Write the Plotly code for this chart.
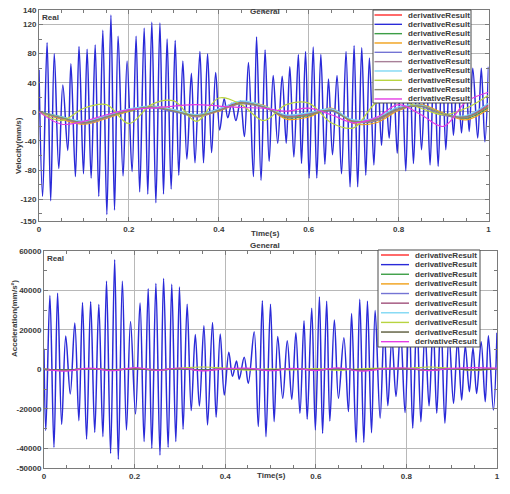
import plotly.graph_objects as go

# ---------------- data: velocity (top panel) ----------------
# main measured signal, successive extrema (time s, velocity mm/s)
vel_t = [0.000, 0.008, 0.018, 0.026, 0.034, 0.044, 0.053, 0.064, 0.071, 0.081,
         0.089, 0.099, 0.107, 0.116, 0.125, 0.133, 0.142, 0.151, 0.160, 0.168,
         0.176, 0.187, 0.196, 0.207, 0.216, 0.224, 0.234, 0.242, 0.251, 0.260,
         0.269, 0.277, 0.285, 0.294, 0.303, 0.311, 0.320, 0.329, 0.339, 0.347,
         0.358, 0.366, 0.375, 0.384, 0.393, 0.402, 0.412, 0.420, 0.429, 0.438,
         0.448, 0.457, 0.466, 0.477, 0.484, 0.494, 0.503, 0.512, 0.521, 0.531,
         0.541, 0.550, 0.558, 0.567, 0.577, 0.584, 0.593, 0.601, 0.610, 0.618,
         0.627, 0.636, 0.644, 0.653, 0.663, 0.673, 0.683, 0.692, 0.701, 0.709,
         0.718, 0.727, 0.735, 0.745, 0.753, 0.762, 0.770, 0.779, 0.788, 0.797,
         0.806, 0.816, 0.824, 0.833, 0.842, 0.851, 0.861, 0.870, 0.879, 0.888,
         0.897, 0.905, 0.914, 0.922, 0.931, 0.940, 0.949, 0.957, 0.965, 0.976,
         0.984, 0.992, 1.000]
vel_v = [58, -116, 95, -122, 80, -78, 37, -53, 66, -89,
         90, -85, 86, -91, 92, -116, 112, -141, 133, -135,
         104, -88, 70, -82, 104, -110, 115, -113, 123, -125,
         122, -113, 100, -106, 98, -87, 70, -65, 53, -70,
         83, -70, 80, -56, 54, -25, 18, -8, 12, -12,
         15, -34, 68, -89, 103, -94, 85, -68, 50, -43,
         49, -43, 62, -62, 79, -71, 83, -91, 89, -91,
         79, -72, 45, -59, 50, -85, 83, -103, 91, -103,
         88, -87, 74, -73, 62, -46, 48, -36, 55, -57,
         78, -81, 85, -71, 70, -52, 66, -73, 80, -75,
         76, -52, 60, -32, 55, -29, 58, -27, 60, -36,
         60, -41, 62]

# slow derivative results, sampled every 0.05 s
slow_t = [0.00, 0.05, 0.10, 0.15, 0.20, 0.25, 0.30, 0.35, 0.40, 0.45, 0.50,
          0.55, 0.60, 0.65, 0.70, 0.75, 0.80, 0.85, 0.90, 0.95, 1.00]
vel_red     = [0, -9, -15, -7, 2, 7, 2, -5, 3, 13, 7, -6, -3, 3, -12, -11, 4, 8, -4, -7, 9]
vel_green   = [0, -7, -14, -8, 1, 6, 1, -6, 2, 12, 8, -8, -5, 2, -14, -12, 3, 9, -2, -9, 6]
vel_orange  = [0, -10, -17, -9, 1, 8, 3, -6, 1, 12, 9, -10, -7, 5, -16, -15, 2, 10, -2, -11, 4]
vel_slate   = [0, -8, -13, -6, 3, 6, 0, -4, 4, 14, 6, -5, -2, 1, -12, -10, 6, 7, -5, -6, 11]
vel_mauve   = [0, -9, -16, -8, 2, 6, 2, -7, 2, 11, 6, -7, -4, 4, -13, -12, 3, 9, -4, -8, 8]
vel_cyan    = [0, -7, -13, -5, 4, 8, 3, -4, 4, 15, 8, -4, -1, 4, -11, -8, 7, 9, -3, -5, 12]
vel_ygreen  = [0, -12, 5, 10, -16, 10, 15, -13, 19, 10, -12, 10, 12, -15, -22, 12, 16, 5, -4, 5, 23]
vel_olive   = [0, -8, -15, -7, 2, 7, 1, -5, 2, 12, 7, -7, -4, 2, -13, -10, 4, 8, -3, -7, 7]
vel_magenta = [0, -17, -13, -4, 3, 5, 8, 10, 8, 6, 5, 1, 5, -4, -15, -8, 10, -4, -20, 14, 27]

vel_ticks = [-150, -120, -80, -40, 0, 40, 80, 120, 140]
vel_minor = [-140, -100, -60, -20, 20, 60, 100]

# ---------------- data: acceleration (bottom panel) ----------------
acc_t = [0.000, 0.004, 0.013, 0.022, 0.030, 0.039, 0.048, 0.058, 0.068, 0.077,
         0.085, 0.094, 0.103, 0.112, 0.121, 0.130, 0.138, 0.147, 0.156, 0.164,
         0.173, 0.182, 0.191, 0.202, 0.212, 0.221, 0.230, 0.238, 0.247, 0.256,
         0.264, 0.274, 0.282, 0.291, 0.299, 0.307, 0.316, 0.325, 0.334, 0.343,
         0.353, 0.361, 0.372, 0.380, 0.389, 0.398, 0.408, 0.416, 0.425, 0.431,
         0.442, 0.451, 0.464, 0.473, 0.482, 0.490, 0.500, 0.508, 0.516, 0.527,
         0.537, 0.547, 0.556, 0.565, 0.574, 0.581, 0.591, 0.599, 0.608, 0.615,
         0.624, 0.631, 0.641, 0.650, 0.662, 0.672, 0.679, 0.689, 0.697, 0.706,
         0.714, 0.723, 0.731, 0.742, 0.751, 0.759, 0.768, 0.777, 0.787, 0.797,
         0.806, 0.814, 0.823, 0.832, 0.841, 0.850, 0.859, 0.867, 0.876, 0.885,
         0.894, 0.904, 0.913, 0.922, 0.930, 0.939, 0.947, 0.955, 0.965, 0.974,
         0.981, 0.992, 1.000]
acc_v = [10400, -31000, 37400, -39500, 38600, -27900, 16900, -12500, 23500, -26000,
         33900, -35300, 34300, -31900, 32900, -34100, 44700, -42500, 55600, -45600,
         44700, -30700, 24300, -22600, 33600, -36600, 40900, -40000, 43500, -43400,
         46100, -39500, 43100, -36600, 41700, -30400, 33000, -20900, 17700, -18600,
         22100, -28200, 23800, -24300, 17900, -13000, 8700, -3500, 4300, -5000,
         6100, -7100, 19100, -29000, 34800, -34100, 33000, -26500, 16700, -14700,
         14500, -15200, 18600, -22300, 24700, -25300, 31000, -30700, 36700, -32400,
         34500, -26200, 25000, -14700, 16000, -21400, 28300, -37000, 35500, -37000,
         34500, -32100, 29800, -24800, 22000, -18400, 16000, -13800, 20000, -21900,
         29000, -29900, 27000, -26500, 20000, -18600, 23000, -22300, 26000, -27300,
         18000, -17200, 15000, -15500, 12000, -11300, 11000, -12200, 14000, -16400,
         17000, -20600, 18600]

acc_red     = [0, -300, 200, -200, 300, -100, 200, -300, 100, 200, -200, 100, -100, 200, -300, 100, 200, -200, 100, -100, 200]
acc_green   = [0, -200, 300, -100, 200, -200, 100, -200, 200, 100, -300, 200, -100, 100, -200, 200, 100, -100, 200, -200, 100]
acc_orange  = [0, -400, 200, -300, 300, -200, 300, -300, 200, 300, -300, 200, -200, 300, -400, 200, 300, -300, 200, -200, 300]
acc_slate   = [0, -200, 100, -200, 200, -100, 100, -200, 100, 100, -100, 100, -100, 100, -200, 100, 100, -100, 100, -100, 100]
acc_mauve   = [0, -300, 300, -200, 200, -200, 200, -200, 200, 200, -200, 200, -200, 200, -300, 200, 200, -200, 200, -200, 200]
acc_cyan    = [0, -200, 200, -100, 300, -100, 200, -200, 200, 300, -100, 200, -100, 200, -200, 200, 300, -100, 200, -100, 300]
acc_ygreen  = [0, -500, 400, -300, 500, -400, 600, 1200, 600, -400, 300, -300, 400, -500, 300, 600, 500, 1200, 500, -300, 400]
acc_olive   = [0, -300, 200, -200, 200, -200, 200, -300, 200, 200, -200, 200, -200, 200, -300, 200, 200, -200, 200, -200, 200]
acc_magenta = [0, -900, 600, -700, 900, -500, 700, -800, 400, 600, -700, 500, -600, 800, -900, 400, 700, -600, 500, 900, 600]

acc_ticks = [-50000, -40000, -20000, 0, 20000, 40000, 60000]
acc_tick_labels = ["-50000", "-40000", "-20000", "0", "20000", "40000", "60000"]
acc_minor = [-30000, -10000, 10000, 30000, 50000]

time_ticks = [0, 0.2, 0.4, 0.6, 0.8, 1]
time_labels = ["0", "0.2", "0.4", "0.6", "0.8", "1"]

series_name = "derivativeResult"

# ---------------- figure ----------------
W, H = 510, 494
FONT = "Liberation Sans, Arial, sans-serif"
TXT = "#3a3a3a"
GRID = "#b8b8b8"
FRAME = "#7a7a7a"
BLUE = "#2a2ad8"

def px(x):
    return x / W

def py(y):
    return 1 - y / H

top_colors = ["#ff2a2a", BLUE, "#3c9e46", "#f0a018", "#7474d4", "#a88098",
              "#7fd8f4", "#b8d440", "#8a8a6a", "#e43ce4"]
bot_colors = ["#ff2a2a", BLUE, "#3c9e46", "#f0a018", "#7474d4", "#a0507a",
              "#7fd8f4", "#b8d440", "#5a5a3a", "#e43ce4"]

fig = go.Figure()

vel_slow = [vel_red, None, vel_green, vel_orange, vel_slate, vel_mauve,
            vel_cyan, vel_ygreen, vel_olive, vel_magenta]
acc_slow = [acc_red, None, acc_green, acc_orange, acc_slate, acc_mauve,
            acc_cyan, acc_ygreen, acc_olive, acc_magenta]

# main signals first (drawn underneath)
fig.add_trace(go.Scatter(x=vel_t, y=vel_v, mode="lines", name=series_name,
                         line=dict(color=BLUE, width=1.5, shape="spline", smoothing=1.0),
                         xaxis="x", yaxis="y"))
fig.add_trace(go.Scatter(x=acc_t, y=acc_v, mode="lines", name=series_name,
                         line=dict(color=BLUE, width=1.5, shape="spline", smoothing=1.0),
                         xaxis="x2", yaxis="y2"))

for i, ys in enumerate(vel_slow):
    if ys is None:
        continue
    fig.add_trace(go.Scatter(x=slow_t, y=ys, mode="lines", name=series_name,
                             line=dict(color=top_colors[i], width=1.2, shape="spline"),
                             xaxis="x", yaxis="y"))
for i, ys in enumerate(acc_slow):
    if ys is None:
        continue
    fig.add_trace(go.Scatter(x=slow_t, y=ys, mode="lines", name=series_name,
                             line=dict(color=bot_colors[i], width=1.2, shape="spline"),
                             xaxis="x2", yaxis="y2"))

tickfont = dict(family=FONT, size=8, color=TXT, weight="bold")
labelfont = dict(family=FONT, size=8, color=TXT, weight="bold")

def xax(domain, anchor):
    return dict(domain=domain, anchor=anchor, range=[0, 1], tickvals=time_ticks,
                ticktext=time_labels, showgrid=True, gridcolor=GRID, gridwidth=1,
                zeroline=False, showline=True, linecolor=FRAME, linewidth=1,
                mirror="allticks", ticks="inside", ticklen=4, tickcolor=FRAME,
                minor=dict(dtick=0.05, tick0=0, ticks="inside", ticklen=3,
                           tickcolor=FRAME, showgrid=False),
                tickfont=tickfont)

def yax(domain, anchor, rng, ticks, labels, minor):
    return dict(domain=domain, anchor=anchor, range=rng, tickvals=ticks,
                ticktext=labels,
                showgrid=True, gridcolor=GRID, gridwidth=1, zeroline=False,
                showline=True, linecolor=FRAME, linewidth=1, mirror="allticks",
                ticks="inside", ticklen=4, tickcolor=FRAME,
                minor=dict(tickvals=minor, ticks="inside", ticklen=3,
                           tickcolor=FRAME, showgrid=False),
                tickfont=tickfont)

annotations = [
    dict(text="General", x=px(265), y=py(5)),
    dict(text="General", x=px(265), y=py(246)),
    dict(text="Real", x=px(40), y=py(11), xanchor="left", yanchor="top"),
    dict(text="Real", x=px(45), y=py(252), xanchor="left", yanchor="top"),
    dict(text="Time(s)", x=px(265), y=py(233)),
    dict(text="Time(s)", x=px(271), y=py(482)),
    dict(text="Velocity(mm/s)", x=px(12), y=py(115), textangle=-90),
    dict(text="Acceleration(mm/s²)", x=px(8), y=py(359), textangle=-90),
]
for a in annotations:
    a.update(xref="paper", yref="paper", showarrow=False, font=labelfont)

# hand-built compact legends (one per panel), same order as MATLAB legend
shapes = []
def add_legend(x0, y0, x1, y1, row0, step, lx0, lx1, tx, colors):
    shapes.append(dict(type="rect", xref="paper", yref="paper",
                       x0=px(x0), x1=px(x1), y0=py(y1), y1=py(y0),
                       fillcolor="white", line=dict(color="#4a4a4a", width=1),
                       layer="above"))
    for k, c in enumerate(colors):
        yy = row0 + step * k
        shapes.append(dict(type="line", xref="paper", yref="paper",
                           x0=px(lx0), x1=px(lx1), y0=py(yy), y1=py(yy),
                           line=dict(color=c, width=1.4), layer="above"))
        annotations.append(dict(text=series_name, x=px(tx), y=py(yy),
                                xref="paper", yref="paper", xanchor="left",
                                yanchor="middle", showarrow=False,
                                font=dict(family=FONT, size=8, color=TXT, weight="bold")))

add_legend(373, 10, 471, 103, 15.0, 9.33, 374.5, 402, 406, top_colors)
add_legend(378, 250, 480, 347, 255.0, 9.63, 381, 409, 413, bot_colors)

fig.update_layout(
    width=W, height=H, template="none",
    paper_bgcolor="white", plot_bgcolor="white",
    margin=dict(l=0, r=0, t=0, b=0), autosize=False,
    showlegend=False, hovermode=False,
    xaxis=xax([px(39), px(488.5)], "y"),
    yaxis=yax([py(221), py(10)], "x", [-150, 140], vel_ticks,
              [str(v) for v in vel_ticks], vel_minor),
    xaxis2=xax([px(44), px(497)], "y2"),
    yaxis2=yax([py(468), py(251)], "x2", [-50000, 60000], acc_ticks,
               acc_tick_labels, acc_minor),
    annotations=annotations,
    shapes=shapes,
)

fig.write_html("out.html",
               config={"displayModeBar": False, "staticPlot": True},
               post_script="document.body.style.margin='0px';"
                           "document.body.style.overflow='hidden';")
